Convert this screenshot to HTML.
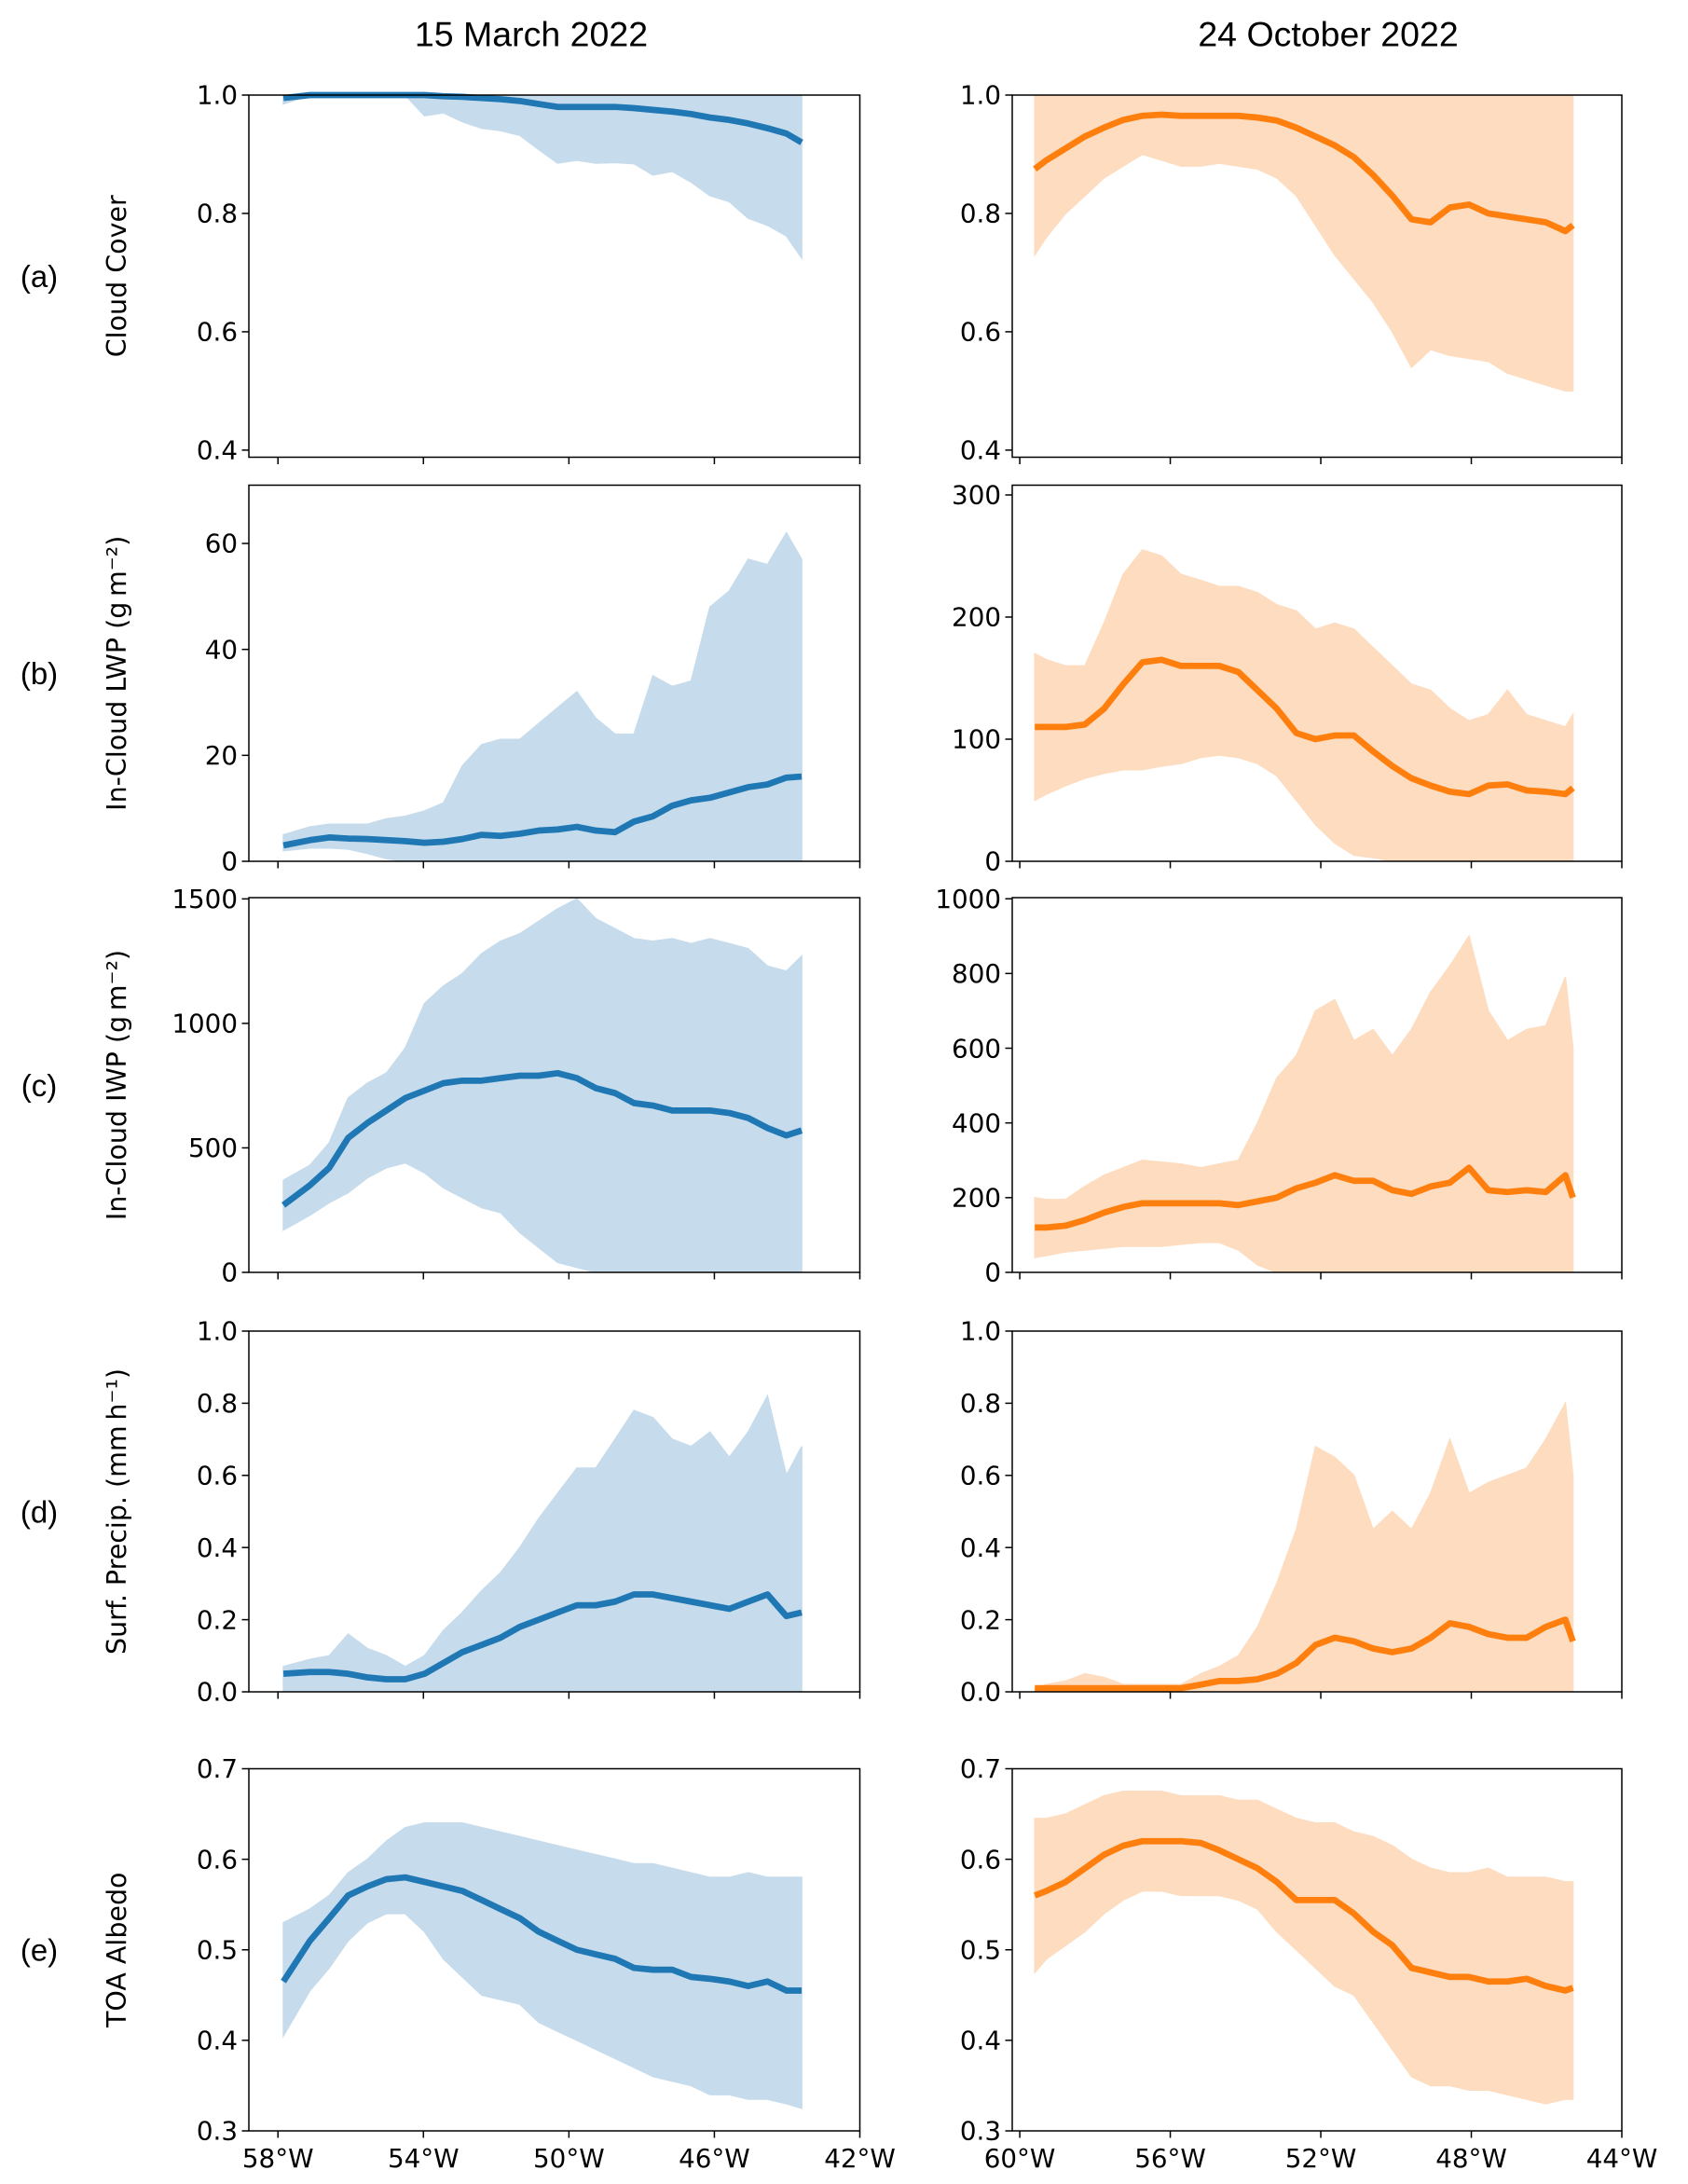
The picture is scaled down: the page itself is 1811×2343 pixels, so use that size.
<!DOCTYPE html>
<html><head><meta charset="utf-8">
<style>
html,body{margin:0;padding:0;background:#fff;}
svg{display:block;}
text{font-family:"DejaVu Sans","Liberation Sans",sans-serif;fill:#000;}
.ttl{font-family:"Liberation Sans",sans-serif;font-size:25px;}
.let{font-family:"Liberation Sans",sans-serif;font-size:22px;}
.tk{font-size:18.5px;}
.yl{font-size:19px;}
</style></head>
<body>
<svg id="fig" width="1811" height="2343" viewBox="0 0 1207.33 1562" preserveAspectRatio="none" xmlns="http://www.w3.org/2000/svg">
<text class="ttl" x="380" y="33" text-anchor="middle">15 March 2022</text>
<text class="ttl" x="950" y="33" text-anchor="middle">24 October 2022</text>
<g id="plots"></g>
</svg>
<script>
// Longitudes (degrees W)
const lonsL = [57.85,57.12,56.59,56.07,55.54,55.02,54.5,53.97,53.45,52.93,52.4,51.88,51.35,50.83,50.31,49.78,49.26,48.73,48.21,47.69,47.16,46.64,46.12,45.59,45.07,44.54,44.02,43.6];
const lonsR = [59.6,59.29,58.78,58.27,57.76,57.25,56.74,56.23,55.72,55.19,54.7,54.19,53.68,53.17,52.65,52.14,51.63,51.12,50.61,50.1,49.59,49.08,48.57,48.06,47.55,47.04,46.53,46.02,45.5,45.3];

// (a) cloud cover
const aMeanL = [.995,1,1,1,1,1,1,1,.998,.997,.995,.993,.99,.985,.98,.98,.98,.98,.978,.975,.972,.968,.962,.958,.952,.944,.935,.92];
const aLoL = [.985,1,1,1,1,1,1,.965,.97,.955,.944,.94,.932,.908,.885,.89,.885,.886,.884,.865,.871,.853,.83,.82,.792,.78,.762,.725];
const aHiL = [1,1,1,1,1,1,1,1,1,1,1,1,1,1,1,1,1,1,1,1,1,1,1,1,1,1,1,1];
const aMeanR = [.875,.89,.91,.93,.945,.958,.965,.967,.965,.965,.965,.965,.962,.957,.945,.93,.915,.895,.865,.83,.79,.785,.81,.815,.80,.795,.79,.785,.77,.78];
const aLoR = [.73,.76,.80,.83,.86,.88,.90,.89,.88,.88,.885,.88,.875,.86,.83,.78,.73,.69,.65,.60,.54,.57,.56,.555,.55,.53,.52,.51,.50,.50];
const aHiR = [1,1,1,1,1,1,1,1,1,1,1,1,1,1,1,1,1,1,1,1,1,1,1,1,1,1,1,1,1,1];

// (b) LWP
const bMeanL = [3,4,4.5,4.3,4.2,4,3.8,3.5,3.7,4.2,5,4.8,5.2,5.8,6,6.5,5.8,5.5,7.5,8.5,10.5,11.5,12,13,14,14.5,15.8,16];
const bHiL = [5,6.5,7,7,7,8,8.5,9.5,11,18,22,23,23,26,29,32,27,24,24,35,33,34,48,51,57,56,62,57];
const bLoL = [2,2.5,2.5,2.3,1.5,.5,0,0,0,0,0,0,0,0,0,0,0,0,0,0,0,0,0,0,0,0,0,0];
const bMeanR = [110,110,110,112,125,145,163,165,160,160,160,155,140,125,105,100,103,103,90,78,68,62,57,55,62,63,58,57,55,60];
const bHiR = [170,165,160,160,195,235,255,250,235,230,225,225,220,210,205,190,195,190,175,160,145,140,125,115,120,140,120,115,110,120];
const bLoR = [50,55,62,68,72,75,75,78,80,85,87,85,80,70,50,30,15,5,3,0,0,0,0,0,0,0,0,0,0,0];

// (c) IWP
const cMeanL = [270,350,420,540,600,650,700,730,760,770,770,780,790,790,800,780,740,720,680,670,650,650,650,640,620,580,550,570];
const cHiL = [370,430,520,700,760,800,900,1080,1150,1200,1280,1330,1360,1410,1460,1500,1420,1380,1340,1330,1340,1320,1340,1320,1300,1230,1210,1270];
const cLoL = [170,230,280,320,380,420,440,400,340,300,260,240,160,100,40,20,0,0,0,0,0,0,0,0,0,0,0,0];
const cMeanR = [120,120,125,140,160,175,185,185,185,185,185,180,190,200,225,240,260,245,245,220,210,230,240,280,220,215,220,215,260,200];
const cHiR = [200,195,195,230,260,280,300,295,290,280,290,300,400,520,580,700,730,620,650,580,650,750,820,900,700,620,650,660,790,600];
const cLoR = [40,45,55,60,65,70,70,70,75,80,80,60,20,0,0,0,0,0,0,0,0,0,0,0,0,0,0,0,0,0];

// (d) precipitation
const dMeanL = [.05,.055,.055,.05,.04,.035,.035,.05,.08,.11,.13,.15,.18,.20,.22,.24,.24,.25,.27,.27,.26,.25,.24,.23,.25,.27,.21,.22];
const dHiL = [.07,.09,.10,.16,.12,.10,.07,.10,.17,.22,.28,.33,.40,.48,.55,.62,.62,.70,.78,.76,.70,.68,.72,.65,.72,.82,.60,.68];
const dLoL = [0,0,0,0,0,0,0,0,0,0,0,0,0,0,0,0,0,0,0,0,0,0,0,0,0,0,0,0];
const dMeanR = [.01,.01,.01,.01,.01,.01,.01,.01,.01,.02,.03,.03,.035,.05,.08,.13,.15,.14,.12,.11,.12,.15,.19,.18,.16,.15,.15,.18,.20,.14];
const dHiR = [.01,.02,.03,.05,.04,.02,.02,.02,.02,.05,.07,.10,.18,.30,.45,.68,.65,.60,.45,.50,.45,.55,.70,.55,.58,.60,.62,.70,.80,.60];
const dLoR = [0,0,0,0,0,0,0,0,0,0,0,0,0,0,0,0,0,0,0,0,0,0,0,0,0,0,0,0,0,0];

// (e) albedo
const eMeanL = [.465,.51,.535,.56,.57,.578,.58,.575,.57,.565,.555,.545,.535,.52,.51,.50,.495,.49,.48,.478,.478,.47,.468,.465,.46,.465,.455,.455];
const eHiL = [.53,.545,.56,.585,.60,.62,.635,.64,.64,.64,.635,.63,.625,.62,.615,.61,.605,.60,.595,.595,.59,.585,.58,.58,.585,.58,.58,.58];
const eLoL = [.405,.455,.48,.51,.53,.54,.54,.52,.49,.47,.45,.445,.44,.42,.41,.40,.39,.38,.37,.36,.355,.35,.34,.34,.335,.335,.33,.325];
const eMeanR = [.56,.565,.575,.59,.605,.615,.62,.62,.62,.618,.61,.60,.59,.575,.555,.555,.555,.54,.52,.505,.48,.475,.47,.47,.465,.465,.468,.46,.455,.458];
const eHiR = [.645,.645,.65,.66,.67,.675,.675,.675,.67,.67,.67,.665,.665,.655,.645,.64,.64,.63,.625,.615,.60,.59,.585,.585,.59,.58,.58,.58,.575,.575];
const eLoR = [.475,.49,.505,.52,.54,.555,.565,.565,.56,.56,.56,.555,.545,.52,.50,.48,.46,.45,.42,.39,.36,.35,.35,.345,.345,.34,.335,.33,.335,.335];

// Tick labels
const xTicksL = [58,54,50,46,42];
const xTicksR = [60,56,52,48,44];
const yTicksA = [0.4,0.6,0.8,1.0];
const yTicksBL = [0,20,40,60];
const yTicksBR = [0,100,200,300];
const yTicksCL = [0,500,1000,1500];
const yTicksCR = [0,200,400,600,800,1000];
const yTicksD = [0,0.2,0.4,0.6,0.8,1.0];
const yTicksE = [0.3,0.4,0.5,0.6,0.7];
const rowLetters = ['(a)','(b)','(c)','(d)','(e)'];
const yTitles = ['Cloud Cover','In-Cloud LWP (g\u2009m\u207B\u00B2)','In-Cloud IWP (g\u2009m\u207B\u00B2)','Surf. Precip. (mm\u2009h\u207B\u00B9)','TOA Albedo'];

const NS = 'http://www.w3.org/2000/svg';
const root = document.getElementById('plots');
const cols = [{x0:178,x1:615,lonMax:58.8,lonMin:42,ticks:xTicksL,color:'#1f77b4',fill:'#c6dbeb',lons:lonsL,side:'left'},
              {x0:724,x1:1160,lonMax:60.2,lonMin:44,ticks:xTicksR,color:'#ff7f0e',fill:'#fddcc0',lons:lonsR,side:'right'}];
const rows = [
 {t:68,b:327,lim:[[0.388,1.0],[0.388,1.0]],ticks:[yTicksA,yTicksA],fmt:v=>v.toFixed(1),data:[[aMeanL,aLoL,aHiL],[aMeanR,aLoR,aHiR]]},
 {t:347,b:616,lim:[[0,71],[0,308]],ticks:[yTicksBL,yTicksBR],fmt:v=>String(v),data:[[bMeanL,bLoL,bHiL],[bMeanR,bLoR,bHiR]]},
 {t:642,b:910,lim:[[0,1505],[0,1003]],ticks:[yTicksCL,yTicksCR],fmt:v=>String(v),data:[[cMeanL,cLoL,cHiL],[cMeanR,cLoR,cHiR]]},
 {t:952,b:1210,lim:[[0,1],[0,1]],ticks:[yTicksD,yTicksD],fmt:v=>v.toFixed(1),data:[[dMeanL,dLoL,dHiL],[dMeanR,dLoR,dHiR]]},
 {t:1265,b:1524,lim:[[0.3,0.7],[0.3,0.7]],ticks:[yTicksE,yTicksE],fmt:v=>v.toFixed(1),data:[[eMeanL,eLoL,eHiL],[eMeanR,eLoR,eHiR]]}
];
const rowNames=['cloud-cover','lwp','iwp','precip','albedo'];
function mk(tag,attrs,parent){const e=document.createElementNS(NS,tag);for(const k in attrs)e.setAttribute(k,attrs[k]);(parent||root).appendChild(e);return e;}

rows.forEach((r,ri)=>{
  const lt=mk('text',{class:'let',x:28,y:(r.t+r.b)/2+8,'text-anchor':'middle'});
  
  
  lt.textContent=rowLetters[ri];
  const yt=mk('text',{class:'yl',x:0,y:0,'text-anchor':'middle',transform:`translate(90,${(r.t+r.b)/2}) rotate(-90)`});
  
  
  yt.textContent=yTitles[ri];
  cols.forEach((c,ci)=>{
    const [ymin,ymax]=r.lim[ci];
    const X=lon=>c.x0+(c.lonMax-lon)/(c.lonMax-c.lonMin)*(c.x1-c.x0);
    const Y=v=>r.b-(v-ymin)/(ymax-ymin)*(r.b-r.t);
    const g=mk('g',{});
    
    
    const [mean,lo,hi]=r.data[ci];
    const clipId='clip'+ri+ci;
    const cp=mk('clipPath',{id:clipId},g);
    mk('rect',{x:c.x0,y:r.t,width:c.x1-c.x0,height:r.b-r.t},cp);
    let d='';
    c.lons.forEach((l,i)=>{d+=(i?'L':'M')+X(l).toFixed(2)+','+Y(hi[i]).toFixed(2);});
    for(let i=c.lons.length-1;i>=0;i--)d+='L'+X(c.lons[i]).toFixed(2)+','+Y(lo[i]).toFixed(2);
    d+='Z';
    const band=mk('path',{d:d,fill:c.fill,stroke:c.fill,'stroke-width':1,'clip-path':`url(#${clipId})`},g);
    
    
    let dl='';
    c.lons.forEach((l,i)=>{dl+=(i?'L':'M')+X(l).toFixed(2)+','+Y(mean[i]).toFixed(2);});
    const ln=mk('path',{d:dl,fill:'none',stroke:c.color,'stroke-width':4.5,'stroke-linejoin':'round'},g);
    
    
    const fr=mk('rect',{x:c.x0,y:r.t,width:c.x1-c.x0,height:r.b-r.t,fill:'none',stroke:'#000','stroke-width':1},g);
    
    
    r.ticks[ci].forEach(v=>{
      const y=Y(v);
      mk('line',{x1:c.x0-5,x2:c.x0,y1:y,y2:y,stroke:'#000','stroke-width':1},g);
      const t=mk('text',{class:'tk',x:c.x0-8,y:y+6.5,'text-anchor':'end'},g);
      
      
      t.textContent=r.fmt(v);
    });
    c.ticks.forEach(l=>{
      const x=X(l);
      mk('line',{x1:x,x2:x,y1:r.b,y2:r.b+5,stroke:'#000','stroke-width':1},g);
      if(ri===rows.length-1){
        const t=mk('text',{class:'tk',x:x,y:r.b+26,'text-anchor':'middle'},g);
        
        
        t.textContent=l+'\u00B0W';
      }
    });
  });
});
</script>
</body></html>
